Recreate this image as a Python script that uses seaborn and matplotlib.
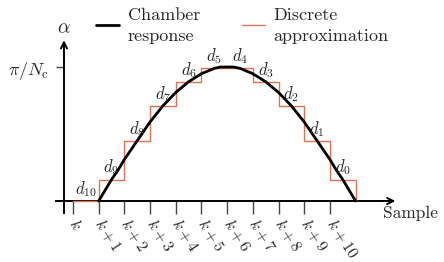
import matplotlib
matplotlib.use("Agg")
import matplotlib.pyplot as plt
import numpy as np
import pandas as pd
import seaborn as sns

# ---- data ----
curve_x = [1 + 0.25 * i for i in range(41)]          # sample positions k+1 ... k+11
curve_y = [0.00, 0.08, 0.16, 0.23, 0.31, 0.38, 0.45, 0.52, 0.59, 0.65,
           0.71, 0.76, 0.81, 0.85, 0.89, 0.92, 0.95, 0.97, 0.99, 1.00,
           1.00, 1.00, 0.99, 0.97, 0.95, 0.92, 0.89, 0.85, 0.81, 0.76,
           0.71, 0.65, 0.59, 0.52, 0.45, 0.38, 0.31, 0.23, 0.16, 0.08, 0.00]
step_edges = [0, 1, 2, 3, 4, 5, 6, 7, 8, 9, 10, 11]
step_vals = [0.00, 0.16, 0.45, 0.71, 0.89, 0.99, 0.99, 0.89, 0.71, 0.45, 0.16, 0.00]
step_names = [r"$d_{10}$", r"$d_9$", r"$d_8$", r"$d_7$", r"$d_6$", r"$d_5$",
              r"$d_4$", r"$d_3$", r"$d_2$", r"$d_1$", r"$d_0$"]
tick_pos = [0, 1, 2, 3, 4, 5, 6, 7, 8, 9, 10]
tick_labels = [r"$k$"] + [rf"$k+{i}$" for i in range(1, 11)]
ytick_pos = [1.0]
ytick_labels = [r"$\pi/N_\mathrm{c}$"]
series_names = ["Chamber\nresponse", "Discrete\napproximation"]

sns.set_theme(style="white")
plt.rcParams["font.family"] = "serif"
plt.rcParams["font.serif"] = ["cmr10", "DejaVu Serif"]
plt.rcParams["mathtext.fontset"] = "cm"
plt.rcParams["axes.unicode_minus"] = False
plt.rcParams["axes.formatter.use_mathtext"] = True

ORANGE = "#e2714f"

fig = plt.figure(figsize=(4.44, 2.62), dpi=100)
ax = fig.add_axes([0, 0, 1, 1])

curve_df = pd.DataFrame({"x": curve_x, "y": curve_y})
step_df = pd.DataFrame({"x": step_edges, "y": step_vals})

sns.lineplot(data=curve_df, x="x", y="y", ax=ax, color="black", lw=2.0,
             estimator=None, label=series_names[0], zorder=4)
sns.lineplot(data=step_df, x="x", y="y", ax=ax, color=ORANGE, lw=1.0,
             estimator=None, drawstyle="steps-post", label=series_names[1], zorder=3)

# step labels
for j, name in enumerate(step_names):
    ax.text(j + 0.5, step_vals[j] + 0.09, name, ha="center", va="center",
            fontsize=12, zorder=5)

ax.set_xlim(-2.84, 14.44)
ax.set_ylim(-0.455, 1.5)
ax.set_xlabel("")
ax.set_ylabel("")

# axes / spines
for s in ["top", "right"]:
    ax.spines[s].set_visible(False)
for s in ["left", "bottom"]:
    ax.spines[s].set_visible(True)
    ax.spines[s].set_color("black")
    ax.spines[s].set_linewidth(1.4)
ax.spines["bottom"].set_position(("data", 0))
ax.spines["left"].set_position(("data", -0.35))
ax.spines["bottom"].set_bounds(-0.66, 12.3)
ax.spines["left"].set_bounds(-0.09, 1.1)

ax.annotate("", xy=(12.55, 0), xytext=(12.0, 0),
            arrowprops=dict(arrowstyle="->", lw=1.4, color="black",
                            shrinkA=0, shrinkB=0, mutation_scale=11))
ax.annotate("", xy=(-0.35, 1.2), xytext=(-0.35, 1.05),
            arrowprops=dict(arrowstyle="->", lw=1.4, color="black",
                            shrinkA=0, shrinkB=0, mutation_scale=11))

ax.set_xticks(tick_pos)
ax.set_xticklabels(tick_labels)
ax.tick_params(axis="x", bottom=True, direction="out", length=9, width=1.0,
               color="#444444", pad=5, labelsize=11.5)
for lab in ax.get_xticklabels():
    lab.set_rotation(-57)
    lab.set_rotation_mode("anchor")
    lab.set_ha("left")
    lab.set_va("center")

ax.set_yticks(ytick_pos)
ax.set_yticklabels(ytick_labels)
ax.tick_params(axis="y", left=True, direction="out", length=6, width=1.0,
               color="#444444", pad=5, labelsize=13)

ax.text(-0.35, 1.29, r"$\alpha$", ha="center", va="center", fontsize=14)
ax.text(12.05, -0.09, "Sample", ha="left", va="center", fontsize=12.5)

leg = ax.legend(loc="upper left", bbox_to_anchor=(0.2, 1.0), ncol=2,
                frameon=False, fontsize=13, handlelength=1.3,
                handletextpad=0.45, columnspacing=2.3, borderaxespad=0)
for t in leg.get_texts():
    t.set_linespacing(1.5)
for h in leg.get_lines():
    h.set_linewidth(2.0 if h.get_color() == "black" else 1.0)

fig.savefig("out.png", dpi=100)
